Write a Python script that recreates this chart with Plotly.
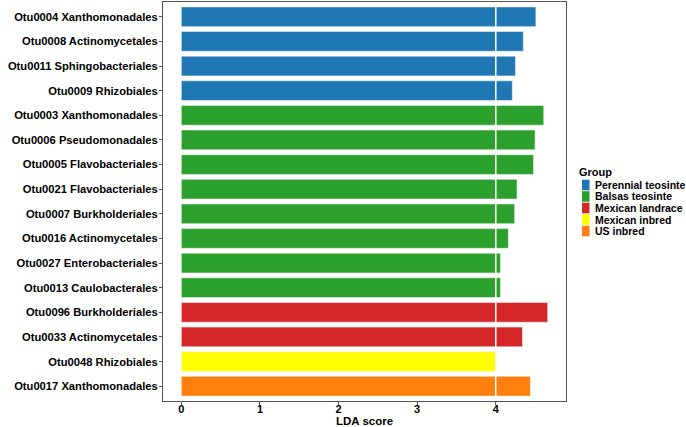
import plotly.graph_objects as go

# Data
features = [
    "Otu0004 Xanthomonadales", "Otu0008 Actinomycetales", "Otu0011 Sphingobacteriales",
    "Otu0009 Rhizobiales", "Otu0003 Xanthomonadales", "Otu0006 Pseudomonadales",
    "Otu0005 Flavobacteriales", "Otu0021 Flavobacteriales", "Otu0007 Burkholderiales",
    "Otu0016 Actinomycetales", "Otu0027 Enterobacteriales", "Otu0013 Caulobacterales",
    "Otu0096 Burkholderiales", "Otu0033 Actinomycetales", "Otu0048 Rhizobiales",
    "Otu0017 Xanthomonadales",
]
lda_scores = [4.51, 4.35, 4.25, 4.21, 4.61, 4.50, 4.48, 4.27, 4.24, 4.16, 4.06, 4.06,
              4.66, 4.34, 4.01, 4.44]
groups = ["Perennial teosinte"] * 4 + ["Balsas teosinte"] * 8 + ["Mexican landrace"] * 2 + \
         ["Mexican inbred"] + ["US inbred"]
group_order = ["Perennial teosinte", "Balsas teosinte", "Mexican landrace", "Mexican inbred", "US inbred"]
group_colors = ["#1f77b4", "#2ca02c", "#d62728", "#ffff00", "#ff7f0e"]
x_ticks = [0, 1, 2, 3, 4]
threshold = 4

font_family = "Liberation Sans, Arial, sans-serif"

W, H = 686, 427
ML, MR, MT, MB = 163, 120, 2, 26
PW, PH = W - ML - MR, H - MT - MB


def px(xpix):
    return (xpix - ML) / PW


def py(ypix):
    return (H - MB - ypix) / PH


fig = go.Figure()
for g, c in zip(group_order, group_colors):
    ys = [f for f, gg in zip(features, groups) if gg == g]
    xs = [v for v, gg in zip(lda_scores, groups) if gg == g]
    fig.add_trace(go.Bar(
        x=xs, y=ys, orientation="h", name=g,
        marker=dict(color=c, line=dict(color="white", width=0.5)),
        width=0.8, showlegend=False,
    ))

fig.add_shape(type="line", x0=threshold, x1=threshold, y0=0, y1=1,
              xref="x", yref="y domain", line=dict(color="white", width=1.5), layer="above")

# Axis title
fig.add_annotation(text="<b>LDA score</b>", xref="paper", yref="paper", x=0.5, y=py(420.5),
                   xanchor="center", yanchor="middle", showarrow=False,
                   font=dict(size=11.5, color="black", family=font_family))

# Manual legend (compact, ggplot-like)
fig.add_annotation(text="<b>Group</b>", xref="paper", yref="paper", x=px(577), y=py(171.5),
                   xanchor="left", yanchor="middle", showarrow=False,
                   font=dict(size=11, color="black", family=font_family))
step = 11.5
for i, (g, c) in enumerate(zip(group_order, group_colors)):
    cy = 185 + i * step
    fig.add_shape(type="rect", xref="paper", yref="paper",
                  x0=px(582), x1=px(589.5), y0=py(cy - 5.3), y1=py(cy + 5.3),
                  fillcolor=c, line=dict(width=0))
    fig.add_annotation(text="<b>" + g + "</b>", xref="paper", yref="paper", x=px(592.5), y=py(cy),
                       xanchor="left", yanchor="middle", showarrow=False,
                       font=dict(size=10.5, color="black", family=font_family))

fig.update_layout(
    width=W, height=H,
    margin=dict(l=ML, r=MR, t=MT, b=MB),
    paper_bgcolor="white", plot_bgcolor="white",
    font=dict(family=font_family, color="black"),
    barmode="overlay",
    showlegend=False,
    xaxis=dict(
        range=[-0.233, 4.893], automargin=False,
        tickmode="array", tickvals=x_ticks, ticktext=[str(t) for t in x_ticks],
        tickfont=dict(size=11, weight="bold", color="black"),
        ticks="outside", ticklen=3, tickcolor="#555", tickwidth=1,
        ticklabelstandoff=-5,
        showgrid=False, zeroline=False,
        showline=True, linecolor="#555", linewidth=1, mirror=True,
    ),
    yaxis=dict(
        type="category", categoryorder="array", categoryarray=features,
        range=[15.6, -0.6], automargin=False,
        tickfont=dict(size=11.2, weight="bold", color="black"),
        ticks="outside", ticklen=3, tickcolor="#555", tickwidth=1,
        ticklabelstandoff=-1,
        showgrid=False, zeroline=False,
        showline=True, linecolor="#555", linewidth=1, mirror=True,
    ),
)

fig.write_html("out.html")
